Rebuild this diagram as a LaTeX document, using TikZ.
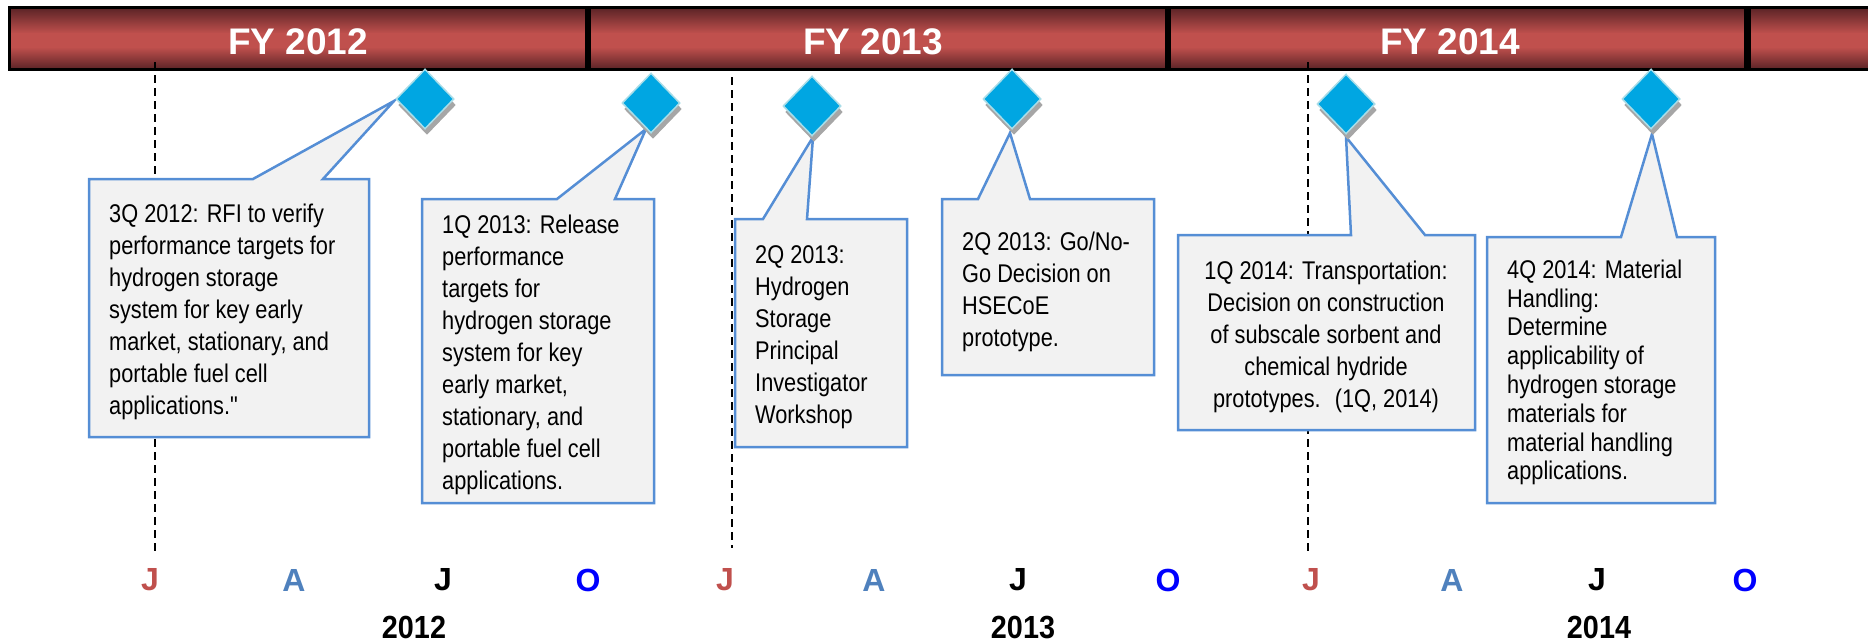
\documentclass[tikz,border=0pt]{standalone}
\usepackage{fontspec}
\setmainfont{Liberation Sans}
\newfontfamily\boxfont[FakeStretch=0.85]{Liberation Sans}
\newfontfamily\yrfont[FakeStretch=0.9]{Liberation Sans}
\usetikzlibrary{shapes.geometric,shadows}
\definecolor{bardark}{HTML}{5A2326}
\definecolor{barred}{HTML}{C0504D}
\definecolor{diafill}{HTML}{00A6E2}
\definecolor{diaedge}{HTML}{A9DDE8}
\definecolor{shadowgray}{HTML}{A6A6A6}
\definecolor{calloutedge}{HTML}{558ED5}
\definecolor{calloutfill}{HTML}{F2F2F2}
\definecolor{monthred}{HTML}{C0504D}
\definecolor{monthblue}{HTML}{4F81BD}
\definecolor{monthO}{HTML}{0000FF}
\newcommand\fstrut{\rule{0pt}{20pt}}
\begin{document}
\begin{tikzpicture}[x=1pt,y=-1pt,
 milestone/.style={diamond, minimum width=58pt, minimum height=60pt, inner sep=0pt, fill=diafill, draw=diaedge, line width=1.5pt,
   drop shadow={shadow xshift=2pt, shadow yshift=-6pt, fill=shadowgray, opacity=1, draw=none}},
 callout/.style={fill=calloutfill, draw=calloutedge, line width=2.5pt, line join=miter},
 boxtext/.style={inner sep=0pt, anchor=north west, align=left, font=\boxfont\fontsize{25.6}{32}\selectfont},
 guide/.style={line width=1.5pt, dash pattern=on 8pt off 5pt},
 fylabel/.style={text=white, font=\bfseries\fontsize{37}{40}\selectfont},
 monthlabel/.style={font=\bfseries\fontsize{32}{34}\selectfont},
 yearlabel/.style={font=\yrfont\bfseries\fontsize{32}{35}\selectfont},
]
\useasboundingbox (0,0) rectangle (1868,643);
\clip (0,0) rectangle (1868,643);

% header bar
\shade[top color=bardark, bottom color=barred] (9,7.5) rectangle (1880,33.5);
\fill[barred] (9,33) rectangle (1880,47.5);
\shade[top color=barred, bottom color=bardark] (9,47) rectangle (1880,69.5);
\draw[line width=3pt] (9,7.5) rectangle (1880,69.5);
\fill[black] (585,7) rectangle (591,69);
\fill[black] (1165,7) rectangle (1171,69);
\fill[black] (1744,7) rectangle (1751,69);
\node[fylabel] (fy12) at (298,42) {FY 2012};
\node[fylabel] (fy13) at (873,42) {FY 2013};
\node[fylabel] (fy14) at (1450,42) {FY 2014};

% dashed guides
\coordinate (g1a) at (155,62);  \coordinate (g1b) at (155,553);
\coordinate (g2a) at (732,77);  \coordinate (g2b) at (732,548);
\coordinate (g3a) at (1308,62); \coordinate (g3b) at (1308,553);
\draw[guide] (g1a) -- (g1b);
\draw[guide] (g2a) -- (g2b);
\draw[guide] (g3a) -- (g3b);

% callout tips
\coordinate (c1) at (394,101);
\coordinate (c2) at (646,129);
\coordinate (c3) at (813,137);
\coordinate (c4) at (1010,133);
\coordinate (c5) at (1346,137);
\coordinate (c6) at (1652,134);

% callouts
\draw[callout] (89,179) -- (253,179) -- (c1) -- (323,179) -- (369,179) -- (369,437) -- (89,437) -- cycle;
\draw[callout] (422,199) -- (557,199) -- (c2) -- (615,199) -- (654,199) -- (654,503) -- (422,503) -- cycle;
\draw[callout] (735,219) -- (763,219) -- (c3) -- (807,219) -- (907,219) -- (907,447) -- (735,447) -- cycle;
\draw[callout] (942,199) -- (978,199) -- (c4) -- (1030,199) -- (1154,199) -- (1154,375) -- (942,375) -- cycle;
\draw[callout] (1178,235) -- (1351,235) -- (c5) -- (1425,235) -- (1475,235) -- (1475,430) -- (1178,430) -- cycle;
\draw[callout] (1487,237) -- (1621,237) -- (c6) -- (1677,237) -- (1715,237) -- (1715,503) -- (1487,503) -- cycle;

% milestones
\node[milestone] (d1) at (425,99) {};
\node[milestone] (d2) at (651,103) {};
\node[milestone] (d3) at (812,106) {};
\node[milestone] (d4) at (1012,99) {};
\node[milestone] (d5) at (1346,104) {};
\node[milestone] (d6) at (1651,99) {};

% texts
\node[boxtext] (t1) at (109,202) {\fstrut 3Q 2012: RFI to verify\\performance targets for\\hydrogen storage\\system for key early\\market, stationary, and\\portable fuel cell\\applications."};
\node[boxtext] (t2) at (442,213) {\fstrut 1Q 2013: Release\\performance\\targets for\\hydrogen storage\\system for key\\early market,\\stationary, and\\portable fuel cell\\applications.};
\node[boxtext] (t3) at (755,243) {\fstrut 2Q 2013:\\Hydrogen\\Storage\\Principal\\Investigator\\Workshop};
\node[boxtext] (t4) at (962,230) {\fstrut 2Q 2013: Go/No-\\Go Decision on\\HSECoE\\prototype.};
\node[boxtext, anchor=north, align=center] (t5) at (1326,259) {\fstrut 1Q 2014: Transportation:\\Decision on construction\\of subscale sorbent and\\chemical hydride\\prototypes.~ (1Q, 2014)};
\node[boxtext, font=\boxfont\fontsize{25.6}{28.8}\selectfont] (t6) at (1507,258) {\fstrut 4Q 2014: Material\\Handling:\\Determine\\applicability of\\hydrogen storage\\materials for\\material handling\\applications.};

% months
\node[monthlabel, text=monthred]  (m1)  at (150,580)  {J};
\node[monthlabel, text=monthblue] (m2)  at (294,580)  {A};
\node[monthlabel, text=black]     (m3)  at (443,580)  {J};
\node[monthlabel, text=monthO]    (m4)  at (588,580)  {O};
\node[monthlabel, text=monthred]  (m5)  at (725,580)  {J};
\node[monthlabel, text=monthblue] (m6)  at (874,580)  {A};
\node[monthlabel, text=black]     (m7)  at (1018,580) {J};
\node[monthlabel, text=monthO]    (m8)  at (1168,580) {O};
\node[monthlabel, text=monthred]  (m9)  at (1311,580) {J};
\node[monthlabel, text=monthblue] (m10) at (1452,580) {A};
\node[monthlabel, text=black]     (m11) at (1597,580) {J};
\node[monthlabel, text=monthO]    (m12) at (1745,580) {O};

% years
\node[yearlabel] (y12) at (414,627) {2012};
\node[yearlabel] (y13) at (1023,627) {2013};
\node[yearlabel] (y14) at (1599,627) {2014};
\end{tikzpicture}
\end{document}
